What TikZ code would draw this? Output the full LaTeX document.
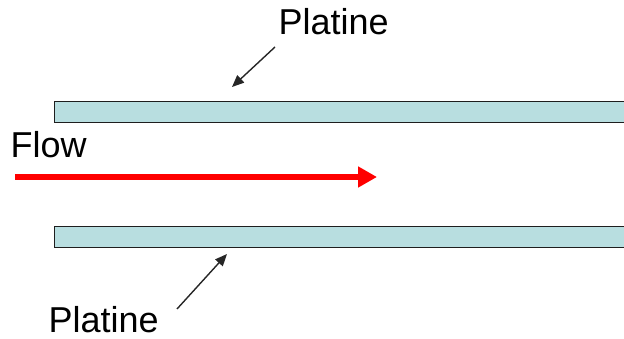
\documentclass[tikz,border=0pt]{standalone}
\usepackage{fontspec}
\setmainfont{Liberation Sans}
\usetikzlibrary{arrows.meta}
\definecolor{platefill}{RGB}{184,222,224}
\definecolor{plateedge}{RGB}{30,30,30}
\definecolor{flowred}{RGB}{255,0,0}
\begin{document}
\begin{tikzpicture}[x=1pt,y=-1pt,
  plate/.style={draw=plateedge,line width=1.3pt,fill=platefill,inner sep=0pt,anchor=north west,minimum width=580pt,minimum height=21pt},
  lbl/.style={inner sep=0pt,anchor=base west,font=\fontsize{36}{42}\selectfont},
  pointer/.style={draw=black!85,line width=1.4pt,-{Triangle[length=12pt,width=10pt]}},
  flowarrow/.style={draw=flowred,line width=6pt,-{Triangle[length=19pt,width=20pt]}}]
\useasboundingbox (0,0) rectangle (624,339);
\node[plate] (topplate) at (54,101) {};
\node[plate] (botplate) at (54,226) {};
\node[lbl] (toplbl) at (278.5,35) {Platine};
\node[lbl] (botlbl) at (48.5,332) {Platine};
\node[lbl] (flowlbl) at (10.5,158) {Flow};
\coordinate (ta) at (275,47);
\coordinate (tb) at (232,87);
\coordinate (ba) at (177,309);
\coordinate (bb) at (227,254);
\coordinate (fa) at (15,177);
\coordinate (fb) at (377,177);
\draw[pointer] (ta) -- (tb);
\draw[pointer] (ba) -- (bb);
\draw[flowarrow] (fa) -- (fb);
\end{tikzpicture}
\end{document}
